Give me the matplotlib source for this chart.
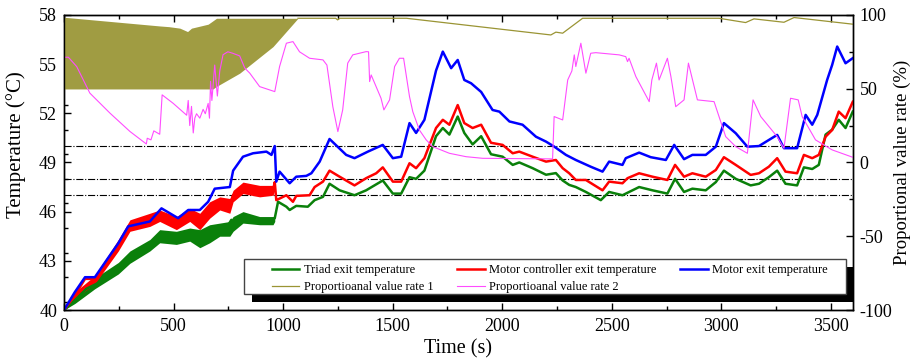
import matplotlib
matplotlib.use("Agg")
import matplotlib.pyplot as plt
from matplotlib.ticker import MultipleLocator
from matplotlib.patches import Rectangle

plt.rcParams['font.family'] = ['Liberation Serif', 'DejaVu Serif']
plt.rcParams['axes.unicode_minus'] = False

# ---- temperature series (deg C) ----
blue_t = [0, 50, 96, 141, 195, 248, 293, 392, 445, 521, 567, 620, 658, 688,
          757, 772, 817, 863, 924, 947, 962, 969, 984, 1030, 1060, 1106, 1129, 1167,
          1212, 1288, 1326, 1387, 1455, 1501, 1539, 1577, 1607, 1645, 1698, 1729, 1767, 1797,
          1827, 1858, 1904, 1956, 1987, 2033, 2093, 2154, 2200, 2238, 2291, 2336, 2404, 2458,
          2488, 2549, 2564, 2625, 2678, 2747, 2785, 2830, 2868, 2929, 2975, 3012, 3066, 3119,
          3172, 3217, 3255, 3286, 3346, 3385, 3415, 3438, 3483, 3506, 3529, 3567, 3600]
blue_v = [40.0, 41.1, 42.0, 42.0, 43.05, 44.07, 45.1, 45.4, 46.2, 45.6, 46.1, 46.1, 46.6, 47.4,
          47.5, 48.5, 49.35, 49.56, 49.66, 49.46, 50.0, 47.83, 48.44, 47.73, 48.13, 48.18, 48.34, 49.05,
          50.43, 49.46, 49.26, 49.66, 50.07, 49.26, 49.35, 51.4, 50.8, 51.6, 54.6, 55.76, 54.75, 55.25,
          54.03, 53.83, 53.3, 52.2, 52.1, 51.5, 51.3, 50.57, 50.27, 49.96, 49.46, 49.15, 48.74, 48.44,
          49.05, 48.85, 49.26, 49.6, 49.32, 49.15, 50.07, 49.2, 49.46, 49.46, 49.96, 51.4, 50.78, 49.96,
          50.0, 50.37, 50.68, 49.87, 49.87, 51.9, 51.3, 51.9, 54.03, 54.95, 56.07, 55.05, 55.36]

red_t = [0, 50, 96, 141, 195, 248, 301, 346, 392, 437, 513, 574, 620, 665,
         711, 757, 772, 817, 893, 954, 962, 969, 1015, 1045, 1060, 1121, 1144, 1182,
         1212, 1258, 1326, 1379, 1425, 1455, 1501, 1539, 1577, 1607, 1645, 1698, 1729, 1759,
         1797, 1827, 1865, 1904, 1949, 2002, 2048, 2078, 2139, 2200, 2245, 2276, 2306, 2336,
         2382, 2458, 2488, 2549, 2572, 2625, 2686, 2754, 2789, 2830, 2868, 2929, 2975, 3012,
         3066, 3134, 3172, 3217, 3255, 3293, 3346, 3377, 3415, 3445, 3476, 3506, 3536, 3567, 3600]
red_v = [40.0, 40.9, 41.9, 41.9, 42.95, 44.0, 45.2, 45.5, 45.5, 45.8, 45.3, 45.9, 45.5, 46.2,
         46.5, 46.4, 47.0, 47.5, 47.3, 47.3, 47.8, 46.7, 47.0, 46.6, 46.96, 47.0, 47.5, 47.83,
         48.5, 48.13, 47.6, 48.04, 48.34, 48.7, 47.83, 47.83, 48.95, 48.65, 49.26, 51.1, 51.6, 51.3,
         52.5, 51.4, 51.1, 51.3, 50.2, 50.07, 49.56, 49.66, 49.35, 49.05, 49.15, 48.65, 48.34, 47.93,
         47.93, 47.3, 47.83, 47.73, 48.04, 48.34, 48.13, 47.93, 48.85, 48.13, 48.34, 48.13, 48.54, 49.32,
         48.85, 48.24, 48.34, 48.74, 49.26, 48.44, 48.34, 49.46, 49.26, 49.46, 50.57, 50.98, 52.1, 51.7, 52.7]

green_t = [0, 50, 103, 149, 195, 248, 301, 346, 392, 437, 513, 559, 605, 635,
           696, 741, 764, 779, 817, 832, 893, 946, 962, 977, 1015, 1030, 1060, 1113,
           1144, 1182, 1212, 1258, 1326, 1379, 1455, 1501, 1539, 1577, 1607, 1645, 1698, 1729,
           1759, 1797, 1827, 1865, 1904, 1949, 2002, 2048, 2078, 2139, 2200, 2245, 2276, 2306,
           2336, 2382, 2450, 2488, 2549, 2625, 2686, 2754, 2789, 2830, 2868, 2929, 2975, 3012,
           3066, 3134, 3172, 3217, 3255, 3293, 3346, 3377, 3415, 3445, 3476, 3506, 3536, 3567, 3600]
green_v = [40.0, 40.6, 41.3, 41.6, 42.0, 42.6, 43.2, 43.6, 43.9, 44.5, 44.4, 44.6, 44.7, 44.3,
           44.8, 45.0, 45.5, 45.1, 45.7, 45.4, 45.45, 45.5, 45.6, 46.6, 46.3, 46.1, 46.35, 46.3,
           46.7, 46.9, 47.7, 47.3, 47.0, 47.3, 47.9, 47.1, 47.1, 48.1, 48.0, 48.5, 50.6, 51.1,
           50.7, 51.8, 50.8, 50.1, 50.6, 49.5, 49.35, 48.85, 49.0, 48.65, 48.25, 48.35, 47.9, 47.63,
           47.5, 47.2, 46.7, 47.2, 47.0, 47.5, 47.3, 47.1, 48.0, 47.2, 47.4, 47.3, 47.8, 48.5,
           48.0, 47.6, 47.7, 48.1, 48.5, 47.7, 47.6, 48.7, 48.6, 48.85, 50.7, 51.0, 51.6, 51.1, 52.1]

# spread of the noisy start-up phase
band_t = [0, 50, 141, 248, 301, 392, 437, 513, 574, 620, 665, 711, 757, 772, 817, 893, 954, 962]
red_lo = [40.0, 40.7, 41.6, 43.6, 44.8, 45.1, 45.4, 44.9, 45.4, 44.9, 45.6, 46.1, 45.9, 46.6, 47.1, 46.9, 47.0, 47.3]
red_hi = [40.0, 41.1, 42.1, 44.3, 45.5, 45.9, 46.1, 45.7, 46.2, 45.9, 46.6, 46.9, 46.8, 47.3, 47.8, 47.6, 47.6, 47.8]
green_lo = [40.0, 40.4, 41.3, 42.2, 42.85, 43.6, 44.1, 44.0, 44.2, 43.8, 44.1, 44.5, 44.5, 44.8, 45.3, 45.2, 45.2, 45.4]
green_hi = [40.0, 40.8, 41.95, 42.9, 43.6, 44.3, 44.9, 44.8, 45.0, 44.9, 45.2, 45.3, 45.4, 45.7, 46.0, 45.7, 45.7, 45.7]

# ---- proportional valve rates (%) ----
rate1_band_t = [0, 437, 480, 529, 564, 582, 658, 680, 696, 802, 954, 1068]
rate1_upper = [98.4, 92.5, 92.0, 91.0, 88.7, 91.0, 93.7, 96.0, 97.7, 97.7, 97.7, 97.7]
rate1_lower = [49.8, 49.8, 49.8, 49.8, 49.8, 49.8, 49.8, 49.8, 51.5, 60.5, 78.5, 97.7]
rate1_t = [1068, 1240, 1249, 1258, 1563, 2222, 2245, 2276, 2367, 2990, 3111, 3149, 3286, 3332, 3600]
rate1_v = [97.7, 97.7, 96.6, 97.7, 97.7, 86.4, 88.3, 87.6, 97.7, 97.7, 94.8, 97.3, 95.0, 98.2, 93.7]

rate2_t = [0, 20, 58, 118, 210, 301, 376, 380, 397, 410, 437, 448, 498, 560, 567, 574, 582, 590,
           597, 605, 620, 635, 645, 658, 664, 669, 675, 688, 700, 711, 726, 748, 770, 802, 825, 848,
           893, 962, 984, 1015, 1045, 1075, 1121, 1182, 1200, 1227, 1250, 1272, 1295, 1318, 1379, 1390,
           1395, 1402, 1447, 1460, 1486, 1509, 1531, 1550, 1577, 1592, 1622, 1653, 1683, 1759, 1835, 1911,
           2230, 2237, 2276, 2299, 2318, 2329, 2336, 2359, 2382, 2404, 2427, 2534, 2564, 2572, 2579, 2610,
           2671, 2683, 2704, 2716, 2754, 2770, 2792, 2830, 2850, 2891, 2967, 3020, 3066, 3119, 3145, 3180,
           3255, 3286, 3316, 3351, 3369, 3430, 3506, 3600]
rate2_v = [71.3, 71.3, 65.0, 47.0, 33.4, 21.0, 12.5, 16.4, 15.3, 21.4, 19.1, 45.8, 40.1, 32.0, 42.0, 25.0, 38.0, 20.0,
           30.0, 33.0, 30.0, 36.0, 33.0, 40.0, 30.0, 55.0, 42.0, 66.0, 45.0, 62.0, 73.0, 75.0, 74.0, 72.2, 64.0, 60.5,
           51.4, 48.0, 65.0, 80.8, 81.9, 75.0, 70.6, 69.5, 66.0, 37.8, 20.9, 35.6, 67.3, 72.9, 75.1, 75.0,
           54.8, 59.3, 43.5, 35.6, 42.4, 65.0, 70.6, 70.6, 44.6, 34.4, 22.0, 15.3, 10.7, 6.2, 3.9, 2.8,
           2.4, 31.1, 28.8, 55.9, 62.0, 72.9, 65.0, 80.8, 60.5, 74.0, 74.4, 72.9, 71.7, 68.3, 70.6, 58.2,
           41.2, 55.9, 67.3, 55.9, 70.6, 58.2, 37.8, 42.4, 67.3, 42.4, 41.2, 17.5, 10.7, 6.2, 42.4, 31.1,
           17.5, 9.6, 43.5, 42.4, 31.1, 15.3, 8.5, 3.5]

ref_levels = [47, 48, 50]

C_GREEN = '#0a800a'
C_RED = '#ff0000'
C_BLUE = '#0000ff'
C_OLIVE = '#9a9434'
C_OLIVE_FILL = '#a09c42'
C_PINK = '#ff4cff'

fig = plt.figure(figsize=(9.14, 3.63), dpi=100)
ax = fig.add_axes([0.070, 0.146, 0.863, 0.813])
ax2 = ax.twinx()

for lv in ref_levels:
    ax.axhline(lv, color='black', ls='-.', lw=0.8, zorder=1)

ax.fill_between(band_t, green_lo, green_hi, color=C_GREEN, lw=0, zorder=2)
ax.fill_between(band_t, red_lo, red_hi, color=C_RED, lw=0, zorder=2)
l_green, = ax.plot(green_t, green_v, color=C_GREEN, lw=1.8, zorder=3,
                   label='Triad exit temperature')
l_red, = ax.plot(red_t, red_v, color=C_RED, lw=1.8, zorder=3,
                 label='Motor controller exit temperature')
l_blue, = ax.plot(blue_t, blue_v, color=C_BLUE, lw=1.8, zorder=4,
                  label='Motor exit temperature')

ax2.fill_between(rate1_band_t, rate1_lower, rate1_upper, color=C_OLIVE_FILL, lw=0)
l_r1, = ax2.plot(rate1_t, rate1_v, color=C_OLIVE, lw=0.9, label='Proportioanal value rate 1')
l_r2, = ax2.plot(rate2_t, rate2_v, color=C_PINK, lw=0.8, label='Proportioanal value rate 2')

ax.set_xlim(0, 3600)
ax.set_ylim(40, 58)
ax2.set_ylim(-100, 100)
ax.set_yticks([40, 43, 46, 49, 52, 55, 58])
ax.yaxis.set_minor_locator(MultipleLocator(1.5))
ax.xaxis.set_major_locator(MultipleLocator(500))
ax.xaxis.set_minor_locator(MultipleLocator(250))
ax2.yaxis.set_major_locator(MultipleLocator(50))
ax2.yaxis.set_minor_locator(MultipleLocator(25))

ax.tick_params(axis='both', which='both', direction='in', labelsize=13, width=1)
ax.tick_params(axis='x', which='both', top=True)
ax.tick_params(which='major', length=5)
ax.tick_params(axis='x', which='major', pad=6)
ax.tick_params(axis='y', which='major', pad=5)
ax.tick_params(which='minor', length=3)
ax2.tick_params(axis='y', which='both', direction='in', labelsize=13, width=1, pad=5)
ax2.tick_params(which='major', length=5)
ax2.tick_params(which='minor', length=3)
for a in (ax, ax2):
    for s in a.spines.values():
        s.set_linewidth(1.0)

ax.set_xlabel('Time (s)', fontsize=14.5, labelpad=3)
ax.set_ylabel('Temperature (\u00b0C)', fontsize=15)
ax.yaxis.set_label_coords(-0.048, 0.561)
ax2.set_ylabel('Proportional value rate (%)', fontsize=13.5, labelpad=1)

# legend box with a solid drop shadow, drawn in axes fraction
frame_x0, frame_y0, frame_w, frame_h = 0.228, 0.053, 0.764, 0.120
shadow_dx, shadow_dy = 0.0101, 0.0271
ax2.add_artist(Rectangle((frame_x0 + shadow_dx, frame_y0 - shadow_dy), frame_w, frame_h,
                         transform=ax2.transAxes, facecolor='black', edgecolor='none',
                         zorder=4.8))
ax2.add_artist(Rectangle((frame_x0, frame_y0), frame_w, frame_h,
                         transform=ax2.transAxes, facecolor='white', edgecolor='#444444',
                         lw=1.0, zorder=4.9))

handles = [l_green, l_r1, l_red, l_r2, l_blue]
leg = ax2.legend(handles=handles, labels=[h.get_label() for h in handles],
                 ncol=3, loc='lower left', bbox_to_anchor=(0.2636, 0.058, 0.7047, 0.1),
                 mode='expand', fontsize=9, frameon=False,
                 borderpad=0, labelspacing=0.38, handlelength=2.2, handletextpad=0.35,
                 borderaxespad=0)
leg.set_zorder(5)

fig.savefig('out.png', dpi=100)
